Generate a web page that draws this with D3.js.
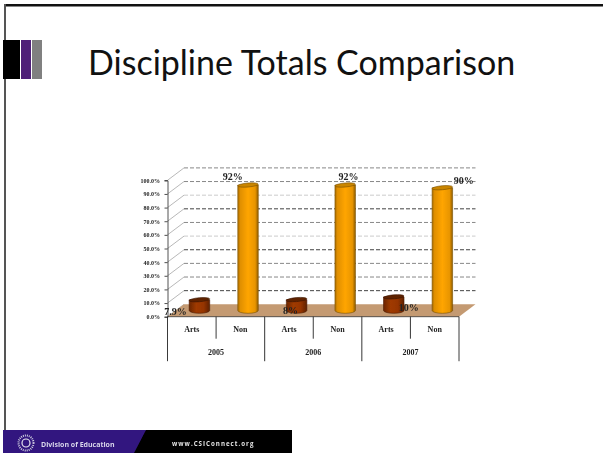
<!DOCTYPE html>
<html>
<head>
<meta charset="UTF-8">
<title>Discipline Totals Comparison</title>
<script src="https://d3js.org/d3.v7.min.js"></script>
<style>
html,body{margin:0;padding:0;background:#fff;}
svg{display:block;}
.title{font-family:Lato,"Open Sans",sans-serif;font-size:34px;fill:#111;}
.chart text{font-family:"Liberation Serif",serif;font-weight:bold;fill:#222;}
.foot{font-family:"Open Sans",sans-serif;font-weight:bold;}
</style>
</head>
<body>
<svg width="603" height="453"></svg>
<script>
var years = ["2005","2006","2007"];
var kinds = ["Arts","Non"];
var artsValues = [0.079,0.08,0.10];
var nonValues = [0.92,0.92,0.90];
var valueLabels = ["7.9%","92%","8%","92%","10%","90%"];
var yTicks = [0,0.1,0.2,0.3,0.4,0.5,0.6,0.7,0.8,0.9,1];

var svg = d3.select("svg");
var defs = svg.append("defs");
defs.append("filter").attr("id","soft").attr("x","-5%").attr("y","-5%").attr("width","110%").attr("height","110%")
  .append("feGaussianBlur").attr("stdDeviation",0.35);

// slide frame
svg.append("rect").attr("x",4).attr("y",4).attr("width",599).attr("height",2.5).attr("fill","#111");
svg.append("rect").attr("x",4).attr("y",4).attr("width",2).attr("height",430).attr("fill","#555");
svg.append("rect").attr("x",3).attr("y",40).attr("width",17).attr("height",39).attr("fill","#000");
svg.append("rect").attr("x",21).attr("y",40).attr("width",10).attr("height",39).attr("fill","#4f1f78");
svg.append("rect").attr("x",32).attr("y",40).attr("width",10).attr("height",39).attr("fill","#808080");
svg.append("text").attr("class","title").attr("x",88).attr("y",74.5).text("Discipline Totals Comparison");

// footer band
var foot = svg.append("g").attr("filter","url(#soft)");
foot.append("rect").attr("x",3).attr("y",430).attr("width",289).attr("height",23).attr("fill","#000");
foot.append("path").attr("d",d3.line()([[3,430],[146,430],[134,453],[3,453]])).attr("fill","#32197f");
foot.append("circle").attr("cx",26).attr("cy",443).attr("r",7.5).attr("fill","none").attr("stroke","#cfcbe0").attr("stroke-width",2).attr("stroke-dasharray","1 1");
foot.append("circle").attr("cx",26).attr("cy",443).attr("r",4).attr("fill","none").attr("stroke","#e8e6f0").attr("stroke-width",1.2);
foot.append("text").attr("class","foot").attr("font-size",7).attr("x",41).attr("y",446.5).attr("fill","#d8d4ea").text("Division of Education");
foot.append("text").attr("class","foot").attr("font-size",6.2).attr("x",172).attr("y",445.5).attr("fill","#e6e6e6").attr("letter-spacing",1).text("www.CSIConnect.org");

// chart
var depthX = 16.5, depthY = -12.4;
var keys = [];
years.forEach(function(y){ kinds.forEach(function(k){ keys.push(y+k); }); });
var values = [];
years.forEach(function(y,i){ values.push(artsValues[i]); values.push(nonValues[i]); });

var xScale = d3.scaleBand().domain(keys).range([167.5,459]);
var yearScale = d3.scaleBand().domain(years).range([167.5,459]);
var yScale = d3.scaleLinear().domain([0,1]).range([316.7,180.3]);

var chart = svg.append("g").attr("class","chart").attr("filter","url(#soft)");

function barGradient(id,stops){
  var g = defs.append("linearGradient").attr("id",id);
  stops.forEach(function(s){ g.append("stop").attr("offset",s[0]).attr("stop-color",s[1]); });
}
barGradient("orangeBar",[[0,"#a86c00"],[0.12,"#e08f00"],[0.5,"#ffa500"],[0.85,"#e89500"],[1,"#8f5c00"]]);
barGradient("rustBar",[[0,"#6b2600"],[0.35,"#a03a00"],[0.7,"#963500"],[1,"#5e2100"]]);

// walls, grid
var gridColors = ["#000","#444","#888","#888","#444","#ccc","#888","#444","#ccc","#888","#888"];
yTicks.forEach(function(t,i){
  if(i>0){
    chart.append("line")
      .attr("x1",xScale.range()[0]+depthX).attr("x2",xScale.range()[1]+depthX)
      .attr("y1",yScale(t)+depthY).attr("y2",yScale(t)+depthY)
      .attr("stroke",gridColors[i]).attr("stroke-width",1).attr("stroke-dasharray","4 2");
  }
  chart.append("line")
    .attr("x1",xScale.range()[0]).attr("x2",xScale.range()[0]+depthX)
    .attr("y1",yScale(t)).attr("y2",yScale(t)+depthY)
    .attr("stroke","#999").attr("stroke-width",0.7);
});

// floor
var x0 = xScale.range()[0], x1 = xScale.range()[1];
chart.append("path")
  .attr("d",d3.line()([[x0,yScale(0)],[x1,yScale(0)],[x1+depthX,yScale(0)+depthY],[x0+depthX,yScale(0)+depthY]])+"Z")
  .attr("fill","#c49a72");

// y axis
var yAxis = d3.axisLeft(yScale).tickValues(yTicks).tickSize(3).tickFormat(d3.format(".1%"));
var yG = chart.append("g").attr("transform","translate(167.5,0)").call(yAxis);
yG.selectAll("text").attr("font-size",6).attr("x",-7.5);
yG.selectAll("line").attr("stroke","#222").attr("stroke-width",0.8);
yG.select(".domain").attr("stroke","#222").attr("stroke-width",0.8);

// x axis lines
chart.append("line").attr("x1",x0).attr("x2",x1).attr("y1",yScale(0)).attr("y2",yScale(0)).attr("stroke","#333").attr("stroke-width",0.8);
var xAxis = d3.axisBottom(xScale).tickSize(0).tickFormat(function(d){ return d.slice(4); });
var xG = chart.append("g").attr("transform","translate(0,"+yScale(0)+")").call(xAxis);
xG.select(".domain").remove();
xG.selectAll("text").attr("font-size",8).attr("dy",0).attr("y",15);
var yearAxis = d3.axisBottom(yearScale).tickSize(0);
var yrG = chart.append("g").attr("transform","translate(0,"+yScale(0)+")").call(yearAxis);
yrG.select(".domain").remove();
yrG.selectAll("text").attr("font-size",8).attr("dy",0).attr("y",38.5);

keys.forEach(function(k,i){
  var xp = xScale(k), major = i%2==0;
  chart.append("line").attr("x1",xp).attr("x2",xp).attr("y1",yScale(0))
    .attr("y2",major ? yScale(0)+44.5 : yScale(0)+22).attr("stroke","#222").attr("stroke-width",0.9);
});
chart.append("line").attr("x1",x1).attr("x2",x1).attr("y1",yScale(0)).attr("y2",yScale(0)+44.5).attr("stroke","#222").attr("stroke-width",0.9);

// cylinders
var barW = 20.5, ry = 2.8;
var bars = chart.selectAll("g.bar").data(keys).enter().append("g").attr("class","bar");
function cx(d){ return xScale(d)+xScale.bandwidth()/2+depthX/2-0.6; }
function barTop(d,i){ return yScale(values[i])+depthY/2; }
function barBase(){ return yScale(0)+depthY/2; }
bars.append("path")
  .attr("d",function(d,i){
    var l = cx(d)-barW/2, r = cx(d)+barW/2;
    return "M"+l+","+barTop(d,i)+"L"+l+","+barBase()+"A"+barW/2+","+ry+" 0 0 0 "+r+","+barBase()+"L"+r+","+barTop(d,i)+"Z";
  })
  .attr("fill",function(d,i){ return i%2==0 ? "url(#rustBar)" : "url(#orangeBar)"; })
  .attr("stroke",function(d,i){ return i%2==0 ? "#4a1a00" : "#7a5000"; })
  .attr("stroke-width",0.6);
// tops lean a little in the original
bars.append("ellipse")
  .attr("cx",cx).attr("cy",barTop).attr("rx",barW/2).attr("ry",ry-0.8)
  .attr("transform",function(d,i){ return "rotate(-5 "+cx(d)+" "+barTop(d,i)+")"; })
  .attr("fill",function(d,i){ return i%2==0 ? "#5f2300" : "#c98500"; })
  .attr("stroke",function(d,i){ return i%2==0 ? "#3d1600" : "#7a5000"; })
  .attr("stroke-width",0.6);

// value labels, dragged around by hand in the original
var labelShiftX = [-24,-15.3,-6,3.2,15,21.5];
var labelShiftY = [15,-5,14.5,-5,14.5,-3.6];
chart.selectAll("text.val").data(keys).enter().append("text").attr("class","val")
  .attr("x",function(d,i){ return cx(d)+labelShiftX[i]; })
  .attr("y",function(d,i){ return barTop(d,i)+labelShiftY[i]; })
  .attr("text-anchor","middle")
  .attr("font-size",10)
  .text(function(d,i){ return valueLabels[i]; });
</script>
</body>
</html>
